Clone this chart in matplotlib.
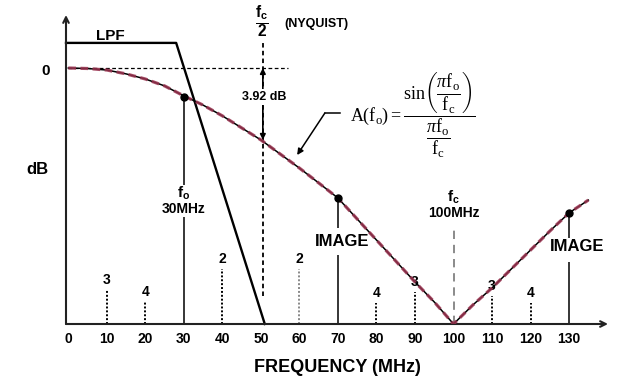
import matplotlib

matplotlib.use("Agg")
import matplotlib.pyplot as plt

plt.rcParams["font.family"] = ["Liberation Sans", "DejaVu Sans"]
plt.rcParams["mathtext.fontset"] = "custom"
plt.rcParams["mathtext.rm"] = "Liberation Serif"
plt.rcParams["mathtext.it"] = "Liberation Serif:italic"
plt.rcParams["mathtext.bf"] = "Liberation Sans:bold"

# sinc response (level 1.0 = the "0" line)
FREQ = [0, 5, 10, 15, 20, 25, 30, 35, 40, 45, 50, 55, 60, 65, 70, 75, 80,
        85, 90, 95, 100, 105, 110, 115, 120, 125, 130, 135]
LEVEL = [1.000, 0.998, 0.992, 0.977, 0.957, 0.930, 0.891, 0.855, 0.813,
         0.766, 0.719, 0.664, 0.609, 0.551, 0.492, 0.410, 0.328, 0.246,
         0.164, 0.086, 0.0, 0.074, 0.141, 0.215, 0.289, 0.363, 0.434, 0.484]

LPF_FREQ = [-0.6, 28, 51]
LPF_LEVEL = [1.098, 1.098, 0.0]

MARKER_FREQ = [30, 70, 130]
MARKER_LEVEL = [0.887, 0.492, 0.434]

SPUR_FREQ = [10, 20, 40, 60, 80, 90, 110, 120]
SPUR_ORDER = ["3", "4", "2", "2", "4", "3", "3", "4"]
SPUR_LEVEL = [0.133, 0.086, 0.215, 0.215, 0.082, 0.125, 0.109, 0.082]

XTICKS = list(range(0, 140, 10))
NYQUIST = 50.5
FC = 100

fig = plt.figure(figsize=(6.4, 3.82), dpi=100)
ax = fig.add_axes([66 / 640, 58 / 382, 542 / 640, 309 / 382])
ax.set_xlim(-0.6, 140.1)
ax.set_ylim(0, 1.207)
for side in ["top", "right", "left", "bottom"]:
    ax.spines[side].set_visible(False)
ax.set_yticks([])
ax.set_xticks(XTICKS)
ax.set_xticklabels([str(v) for v in XTICKS], fontweight="bold", fontsize=10)
ax.tick_params(axis="x", length=0, pad=6)

# axes with arrows
ax.annotate("", xy=(1, 0), xytext=(0, 0), xycoords="axes fraction",
            arrowprops=dict(arrowstyle="->", lw=1.5, color="#222222",
                            shrinkA=0, shrinkB=0))
ax.annotate("", xy=(0, 1), xytext=(0, 0), xycoords="axes fraction",
            arrowprops=dict(arrowstyle="->", lw=1.5, color="#222222",
                            shrinkA=0, shrinkB=0))

# LPF
ax.plot(LPF_FREQ, LPF_LEVEL, color="black", lw=1.7, clip_on=False)
ax.text(11, 1.125, "LPF", fontsize=11, fontweight="bold", ha="center", va="center")

# 0 dB reference
ax.plot([0, 57], [1.0, 1.0], color="black", lw=0.9, linestyle=(0, (3, 2)))
ax.text(-5.8, 0.99, "0", fontsize=11, fontweight="bold", ha="center", va="center")
ax.text(-7.9, 0.605, "dB", fontsize=12, fontweight="bold", ha="center", va="center")

# sinc curve
ax.plot(FREQ, LEVEL, color="black", lw=1.1, zorder=3)
ax.plot(FREQ, LEVEL, color="#9a3350", lw=2.3, alpha=0.85,
        dashes=(2.4, 1.4), zorder=4)
ax.plot(MARKER_FREQ, MARKER_LEVEL, "o", color="black", ms=5, zorder=5)

# Nyquist line and 3.92 dB drop
ax.plot([NYQUIST, NYQUIST], [0.109, 1.102], color="black", lw=1.3,
        linestyle=(0, (2.5, 1.8)))
ax.annotate("", xy=(NYQUIST, 1.0), xytext=(NYQUIST, 0.719),
            arrowprops=dict(arrowstyle="<|-|>", lw=1.2, color="black",
                            mutation_scale=8, shrinkA=0, shrinkB=0))
ax.text(50.8, 0.887, "3.92 dB", fontsize=9, fontweight="bold", ha="center",
        va="center", zorder=6,
        bbox=dict(facecolor="white", edgecolor="none", pad=1.5))
ax.text(50.3, 1.180, r"$\frac{\mathbf{f_c}}{\mathbf{2}}$", fontsize=16,
        ha="center", va="center")
ax.text(64.3, 1.172, "(NYQUIST)", fontsize=9, fontweight="bold",
        ha="center", va="center")

# f_o marker
ax.vlines(MARKER_FREQ[0], 0.543, MARKER_LEVEL[0], color="black", lw=1.1)
ax.vlines(MARKER_FREQ[0], 0, 0.418, color="black", lw=1.1)
ax.text(30, 0.512, r"$\mathbf{f_o}$", fontsize=11, ha="center", va="center")
ax.text(30, 0.449, "30MHz", fontsize=10, fontweight="bold", ha="center", va="center")

# images
ax.vlines(MARKER_FREQ[1], 0.375, MARKER_LEVEL[1], color="black", lw=1.1)
ax.vlines(MARKER_FREQ[1], 0, 0.270, color="black", lw=1.1)
ax.text(71.0, 0.322, "IMAGE", fontsize=12, fontweight="bold",
        ha="center", va="center")
ax.vlines(MARKER_FREQ[2], 0.336, MARKER_LEVEL[2], color="black", lw=1.1)
ax.vlines(MARKER_FREQ[2], 0, 0.242, color="black", lw=1.1)
ax.text(132.2, 0.301, "IMAGE", fontsize=12, fontweight="bold",
        ha="center", va="center")

# f_c
ax.vlines(FC, 0, 0.383, color="#777777", lw=1.2, linestyle=(0, (5, 3.5)))
ax.text(FC, 0.495, r"$\mathbf{f_c}$", fontsize=11, ha="center", va="center")
ax.text(FC, 0.434, "100MHz", fontsize=10, fontweight="bold", ha="center", va="center")

# spurs
for f, order, lvl in zip(SPUR_FREQ, SPUR_ORDER, SPUR_LEVEL):
    col = "#888888" if f == 60 else "black"
    ax.vlines(f, 0, lvl, color=col, lw=1.4, linestyle=(0, (1, 1)))
    ax.annotate(order, xy=(f, lvl), xytext=(0, 2), textcoords="offset points",
                fontsize=10, fontweight="bold", ha="center", va="bottom")

# formula with leader
ax.plot([66.6, 70.5], [0.824, 0.824], color="black", lw=1.1)
ax.annotate("", xy=(59.4, 0.660), xytext=(66.6, 0.824),
            arrowprops=dict(arrowstyle="-|>", lw=1.1, color="black",
                            mutation_scale=9, shrinkA=0, shrinkB=0))
ax.text(73.2, 0.816,
        r"$\mathrm{A(f_o)} = \dfrac{\mathrm{sin}\left(\dfrac{\pi \mathrm{f_o}}"
        r"{\mathrm{f_c}}\right)}{\dfrac{\pi \mathrm{f_o}}{\mathrm{f_c}}}$",
        fontsize=13, ha="left", va="center")

fig.text(337 / 640, 1 - 368 / 382, "FREQUENCY (MHz)", fontsize=13,
         fontweight="bold", ha="center", va="center")

fig.savefig("out.png", dpi=100)
